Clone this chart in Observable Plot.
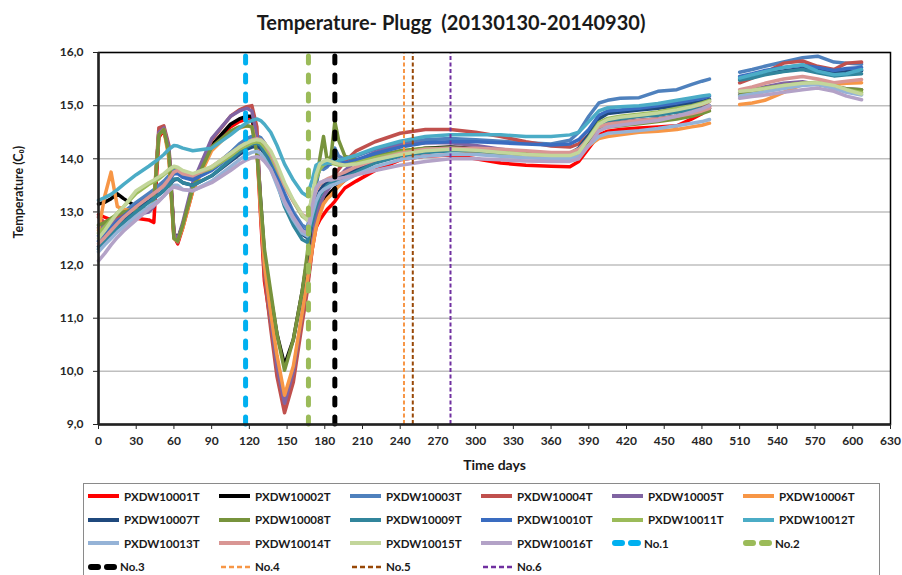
<!DOCTYPE html>
<html>
<head>
<meta charset="utf-8">
<script src="https://cdn.jsdelivr.net/npm/d3@7"></script>
<script src="https://cdn.jsdelivr.net/npm/@observablehq/plot@0.6"></script>
<style>
  body { margin:0; width:902px; height:575px; overflow:hidden; background:#fff; font-family: Lato, "Open Sans", sans-serif; position:relative; }
  #title { height:40px; line-height:44px; text-align:center; font-weight:bold; font-size:20px; color:#1a1a1a; }
  #chart svg { display:block; }
  #legend { position:absolute; left:83px; top:483px; width:797px; height:100px; border:1.5px solid #8a8a8a; box-sizing:border-box; }
  .item { position:absolute; height:20px; display:flex; align-items:center; font-weight:bold; font-size:11.5px; color:#1a1a1a; white-space:nowrap; }
  .item svg { margin-right:4px; }
</style>
</head>
<body>
<div id="title">Temperature- Plugg&nbsp;&nbsp;(20130130-20140930)</div>
<div id="chart"></div>
<div id="legend"></div>
<script>
const days = [
  0, 5, 10, 15, 20, 30, 40,
  44, 48, 52, 56, 60, 63, 67, 75,
  90, 105, 112, 118,
  122, 126, 129, 132, 137, 142, 148, 155, 162, 166,
  170, 173, 176, 179, 182, 185, 188, 191, 196,
  205, 220, 240, 260, 280, 300, 320, 340, 360,
  375, 382, 390, 398, 405, 415, 430, 445, 460, 472, 480, 486,
  498,
  510, 520, 530, 545, 560, 572, 585, 595, 607
];

const s01 = [
  12.95, 12.9, 12.85, 12.88, 12.9, 12.88, 12.85,
  12.8, 14.4, 14.55, 14.1, 12.55, 12.4, 12.7, 13.4,
  14.2, 14.6, 14.7, 14.75,
  14.78, 14.2, 12.9, 11.7, 10.9, 10.1, 9.45, 10.0, 11.0, 11.6,
  12.3, 12.7, 12.85, 12.95, 13.05, 13.12, 13.2, 13.3, 13.45,
  13.58, 13.78, 13.98, 14.05, 14.07, 14.0, 13.92, 13.88, 13.86,
  13.85, 13.95, 14.2, 14.45, 14.52, 14.55, 14.58, 14.6, 14.62, 14.75, 14.85, 14.98,
  null,
  null, null, null, null, null, null, null, null, null
];
const s02 = [
  13.15, 13.18, 13.25, 13.34, 13.25, 13.1, 13.05,
  13.1, 14.5, 14.55, 14.15, 12.6, 12.5, 12.75, 13.45,
  14.25, 14.65, 14.75, 14.8,
  14.8, 14.3, 13.2, 12.2, 11.4, 10.7, 10.12, 10.6, 11.5, 12.1,
  12.7, 13.0, 13.1, 13.2, 13.3, 13.38, 13.45, 13.5, 13.6,
  13.75, 13.95, 14.12, 14.2, 14.22, 14.2, 14.15, 14.1, 14.08,
  14.08, 14.15, 14.35, 14.6, 14.65, 14.68, 14.72, 14.75, 14.8, 14.85, 14.9, 14.95,
  null,
  null, null, null, null, null, null, null, null, null
];
const s03 = [
  12.55, 12.65, 12.78, 12.9, 13.0, 13.18, 13.35,
  13.42, 13.5, 13.58, 13.68, 13.78, 13.78, 13.7, 13.65,
  13.82, 14.12, 14.28, 14.38,
  14.42, 14.43, 14.4, 14.3, 14.05, 13.75, 13.35, 13.0, 12.75, 12.7,
  13.1, 13.6, 13.82, 13.8, 13.85, 13.95, 14.2, 14.05, 13.98,
  14.05, 14.18, 14.3, 14.36, 14.38, 14.36, 14.33, 14.3, 14.28,
  14.35, 14.5, 14.8, 15.05, 15.1, 15.14, 15.15, 15.27, 15.3, 15.4, 15.46, 15.5,
  null,
  15.63, 15.68, 15.74, 15.82, 15.9, 15.93, 15.82, 15.8, 15.78
];
const s04 = [
  12.9, 12.8, 12.85, 12.9, 12.95, 13.0, 13.05,
  13.15, 14.58, 14.62, 14.25, 12.55, 12.42, 12.75, 13.5,
  14.35, 14.8, 14.92, 14.98,
  15.0, 14.6, 13.0, 11.8, 10.8, 9.9, 9.22, 9.8, 10.9, 11.5,
  12.3, 12.9, 13.1, 13.3, 13.45, 13.6, 13.7, 13.8, 13.95,
  14.15, 14.32, 14.48, 14.55, 14.55, 14.5, 14.42, 14.32, 14.24,
  14.22, 14.28, 14.45, 14.6, 14.7, 14.75, 14.8, 14.85, 14.88, 14.92, 14.98, 15.08,
  null,
  15.43, 15.52, 15.62, 15.8, 15.84, 15.74, 15.68, 15.8, 15.82
];
const s05 = [
  12.7, 12.75, 12.8, 12.85, 12.9, 12.95, 13.0,
  13.1, 14.5, 14.58, 14.2, 12.6, 12.48, 12.8, 13.55,
  14.38, 14.8, 14.9, 14.95,
  14.9, 14.4, 13.1, 12.0, 11.0, 10.1, 9.4, 10.0, 11.1, 11.7,
  12.4, 12.95, 13.15, 13.3, 13.4, 13.5, 13.58, 13.65, 13.78,
  13.95, 14.12, 14.25, 14.3, 14.3, 14.25, 14.18, 14.12, 14.1,
  14.1, 14.18, 14.4, 14.6, 14.65, 14.68, 14.72, 14.75, 14.8, 14.85, 14.9, 14.95,
  null,
  15.25, 15.3, 15.35, 15.42, 15.45, 15.4, 15.35, 15.32, 15.3
];
const s06 = [
  12.65, 13.3, 13.75, 13.1, 13.05, 13.0, 13.05,
  13.2, 14.45, 14.55, 14.0, 12.5, 12.45, 12.7, 13.4,
  14.15, 14.5, 14.58, 14.62,
  14.6, 14.2, 13.0, 12.0, 11.1, 10.3, 9.55, 10.1, 11.1, 11.7,
  12.3, 12.7, 12.95, 13.15, 13.25, 13.32, 13.4, 13.48, 13.6,
  13.75, 13.98, 14.12, 14.18, 14.18, 14.12, 14.08, 14.05, 14.05,
  14.05, 14.1, 14.25, 14.38, 14.42, 14.45, 14.5, 14.52, 14.55, 14.6, 14.63, 14.67,
  null,
  15.02, 15.05, 15.1, 15.25, 15.4, 15.42, 15.4, 15.42, 15.43
];
const s07 = [
  12.35, 12.5, 12.62, 12.75, 12.85, 13.05, 13.2,
  13.27, 13.33, 13.4, 13.5, 13.6, 13.62, 13.55, 13.5,
  13.68, 13.95, 14.08, 14.18,
  14.22, 14.24, 14.2, 14.1, 13.9, 13.6, 13.2, 12.85, 12.58, 12.52,
  12.9, 13.2, 13.4, 13.5, 13.55, 13.6, 13.62, 13.65, 13.7,
  13.8, 13.95, 14.08, 14.15, 14.18, 14.18, 14.15, 14.1, 14.08,
  14.1, 14.2, 14.45, 14.75, 14.85, 14.88, 14.92, 14.95, 15.0, 15.05, 15.08, 15.12,
  null,
  15.5, 15.55, 15.6, 15.65, 15.7, 15.68, 15.62, 15.64, 15.66
];
const s08 = [
  12.75, 12.8, 12.88, 12.95, 13.0, 13.05, 13.05,
  13.15, 14.45, 14.55, 14.1, 12.5, 12.45, 12.75, 13.45,
  14.22, 14.52, 14.6, 14.62,
  14.6, 14.1, 13.2, 12.3, 11.5, 10.7, 10.02, 10.6, 11.5, 12.2,
  13.0, 13.5, 14.0, 14.42, 13.95, 14.05, 14.7, 14.35, 14.05,
  13.98, 14.05, 14.15, 14.2, 14.2, 14.15, 14.1, 14.08, 14.08,
  14.08, 14.15, 14.35, 14.55, 14.6, 14.62, 14.66, 14.7, 14.75, 14.8, 14.85, 14.9,
  null,
  15.2, 15.25, 15.3, 15.38, 15.42, 15.4, 15.35, 15.32, 15.3
];
const s09 = [
  12.3, 12.45, 12.58, 12.7, 12.8, 13.0, 13.18,
  13.25, 13.32, 13.4, 13.5, 13.62, 13.62, 13.55, 13.5,
  13.68, 13.98, 14.12, 14.22,
  14.28, 14.3, 14.25, 14.12, 13.88, 13.55, 13.1, 12.75, 12.48, 12.43,
  12.8, 13.1, 13.3, 13.42, 13.5, 13.55, 13.58, 13.6, 13.65,
  13.75, 13.92, 14.05, 14.12, 14.15, 14.15, 14.12, 14.1, 14.08,
  14.1, 14.18, 14.4, 14.65, 14.72, 14.75, 14.8, 14.82, 14.88, 14.92, 14.95, 15.0,
  null,
  15.48, 15.52, 15.58, 15.64, 15.68, 15.62, 15.56, 15.58, 15.6
];
const s10 = [
  12.45, 12.58, 12.7, 12.82, 12.92, 13.12, 13.28,
  13.35, 13.42, 13.5, 13.6, 13.72, 13.72, 13.65, 13.6,
  13.78, 14.05, 14.2, 14.3,
  14.35, 14.38, 14.35, 14.25, 14.0, 13.7, 13.3, 12.95, 12.68, 12.62,
  13.0, 13.5, 13.85, 13.85, 13.88, 13.9, 14.0, 13.95, 13.92,
  13.98, 14.1, 14.22, 14.3, 14.32, 14.32, 14.3, 14.28, 14.26,
  14.28, 14.36, 14.55, 14.82, 14.9, 14.92, 14.95, 15.0, 15.05, 15.1, 15.14, 15.18,
  null,
  15.55, 15.6, 15.66, 15.72, 15.76, 15.72, 15.66, 15.7, 15.72
];
const s11 = [
  12.6, 12.72, 12.85, 12.98, 13.1, 13.35, 13.52,
  13.57, 13.62, 13.7, 13.78, 13.85, 13.82, 13.75, 13.7,
  13.82, 14.05, 14.18, 14.25,
  14.3, 14.32, 14.3, 14.22, 14.05, 13.8, 13.5, 13.2, 12.92, 12.85,
  13.3, 13.6, 13.8, 13.88, 13.92, 13.92, 13.9, 13.88, 13.88,
  13.92, 14.02, 14.12, 14.18, 14.2, 14.18, 14.15, 14.1, 14.08,
  14.08, 14.15, 14.4, 14.68, 14.76, 14.8, 14.84, 14.88, 14.95, 15.0, 15.05, 15.1,
  null,
  15.28, 15.3, 15.33, 15.38, 15.42, 15.44, 15.38, 15.3, 15.25
];
const s12 = [
  13.22, 13.27, 13.33, 13.42, 13.52, 13.7, 13.86,
  13.93, 14.0, 14.08, 14.18, 14.25, 14.24, 14.2, 14.15,
  14.2, 14.45, 14.58, 14.68,
  14.72, 14.75, 14.72, 14.65, 14.5, 14.25, 13.9, 13.6, 13.36, 13.3,
  13.6, 13.88, 13.92, 13.9, 13.92, 13.93, 13.95, 13.97, 14.0,
  14.07, 14.2, 14.33, 14.42, 14.45, 14.45, 14.45, 14.42, 14.42,
  14.45, 14.5, 14.7, 14.9, 14.96, 14.98, 15.0, 15.04, 15.1, 15.15, 15.18, 15.2,
  null,
  15.52, 15.58, 15.64, 15.72, 15.77, 15.65, 15.58, 15.6, 15.68
];
const s13 = [
  12.25, 12.38, 12.5, 12.62, 12.72, 12.92, 13.1,
  13.16, 13.22, 13.3, 13.4, 13.5, 13.5, 13.42, 13.4,
  13.58, 13.85, 13.98, 14.08,
  14.12, 14.14, 14.1, 14.0, 13.8, 13.5, 13.15, 12.85, 12.6, 12.55,
  12.95, 13.2, 13.35, 13.42, 13.46, 13.5, 13.52, 13.55, 13.6,
  13.7, 13.85, 13.98, 14.05, 14.08, 14.08, 14.05, 14.02, 14.0,
  14.0, 14.05, 14.25, 14.42, 14.48, 14.5, 14.53, 14.57, 14.62, 14.67, 14.7, 14.74,
  null,
  15.18, 15.22, 15.26, 15.32, 15.38, 15.4, 15.32, 15.25, 15.2
];
const s14 = [
  12.4, 12.52, 12.65, 12.78, 12.9, 13.1, 13.28,
  13.35, 13.42, 13.5, 13.62, 13.75, 13.78, 13.72, 13.68,
  13.85, 14.1, 14.22, 14.3,
  14.35, 14.38, 14.36, 14.3, 14.1, 13.85, 13.5, 13.2, 12.95, 12.9,
  13.2, 13.4, 13.52, 13.58, 13.62, 13.65, 13.68, 13.7, 13.75,
  13.85, 13.98, 14.1, 14.18, 14.2, 14.2, 14.18, 14.15, 14.12,
  14.12, 14.18, 14.38, 14.6, 14.65, 14.68, 14.72, 14.75, 14.8, 14.85, 14.9, 14.95,
  null,
  15.3, 15.35, 15.42, 15.5, 15.55, 15.5, 15.43, 15.46, 15.49
];
const s15 = [
  12.5, 12.65, 12.82, 12.98, 13.1, 13.4, 13.55,
  13.6, 13.66, 13.72, 13.8, 13.86, 13.84, 13.78, 13.72,
  13.85, 14.1, 14.22, 14.3,
  14.34, 14.36, 14.35, 14.3, 14.15, 13.9, 13.55, 13.22, 12.95, 12.84,
  13.3, 13.7, 13.9, 13.95, 13.98, 13.95, 13.92, 13.9, 13.88,
  13.9, 13.98, 14.08, 14.15, 14.18, 14.16, 14.12, 14.08, 14.06,
  14.06, 14.12, 14.38, 14.65, 14.74, 14.78, 14.82, 14.86, 14.92, 14.98, 15.03, 15.08,
  null,
  15.27, 15.29, 15.32, 15.38, 15.42, 15.43, 15.38, 15.3, 15.22
];
const s16 = [
  12.08, 12.22, 12.38, 12.52, 12.64, 12.85, 13.05,
  13.12, 13.2, 13.3, 13.4, 13.47, 13.45, 13.42, 13.4,
  13.55, 13.78, 13.9, 13.98,
  14.02, 14.04, 14.02, 13.95, 13.8, 13.55, 13.2, 12.9, 12.65, 12.6,
  13.1, 13.45, 13.55, 13.58, 13.6, 13.6, 13.62, 13.63, 13.65,
  13.7, 13.78, 13.88, 13.95, 14.0, 14.0, 13.98, 13.96, 13.95,
  13.95, 14.0, 14.25, 14.52, 14.6, 14.63, 14.68, 14.72, 14.8, 14.88, 14.94, 15.0,
  null,
  15.14, 15.17, 15.2, 15.25, 15.3, 15.33, 15.27, 15.18, 15.11
];

const seriesNames = ["PXDW10001T","PXDW10002T","PXDW10003T","PXDW10004T","PXDW10005T","PXDW10006T",
  "PXDW10007T","PXDW10008T","PXDW10009T","PXDW10010T","PXDW10011T","PXDW10012T",
  "PXDW10013T","PXDW10014T","PXDW10015T","PXDW10016T"];
const seriesColors = ["#ff0000","#000000","#4f81bd","#c0504d","#8064a2","#f79646",
  "#1f497d","#77933c","#31859c","#3a6cc0","#9bbb59","#4bacc6",
  "#95b3d7","#d99694","#c3d69b","#b3a2c7"];
const seriesValues = [s01,s02,s03,s04,s05,s06,s07,s08,s09,s10,s11,s12,s13,s14,s15,s16];

const eventNames = ["No.1","No.2","No.3","No.4","No.5","No.6"];
const eventDays = [117, 167, 188, 243, 250, 280];
const eventColors = ["#00b0f0","#9bbb59","#000000","#f79646","#984807","#7030a0"];
const eventHeavy = [true, true, true, false, false, false];

const yTicks = [9, 10, 11, 12, 13, 14, 15, 16];
const xTicks = d3.range(0, 631, 30);

seriesValues.forEach((v, i) => { if (v.length !== days.length) throw new Error(`series ${i+1} length ${v.length} != ${days.length}`); });

const rows = seriesNames.flatMap((name, i) =>
  days.map((d, j) => ({series: name, day: d, temp: seriesValues[i][j]})));

const events = eventNames.map((n, i) => ({name: n, day: eventDays[i], color: eventColors[i], heavy: eventHeavy[i]}));

const eventMarks = events.map(e => Plot.ruleX([e], {
  x: "day", y1: 9, y2: 16, stroke: e.color,
  strokeWidth: e.heavy ? 5 : 2,
  strokeDasharray: e.heavy ? "7,12" : "4,2.5",
  strokeLinecap: e.heavy ? "round" : "butt"
}));

const chart = Plot.plot({
  width: 902,
  height: 440,
  marginLeft: 98,
  marginRight: 12,
  marginTop: 12,
  marginBottom: 56,
  style: {fontFamily: "Lato, 'Open Sans', sans-serif", fontSize: "12px", fontWeight: "bold", color: "#262626", background: "white"},
  x: {domain: [0, 630]},
  y: {domain: [9, 16]},
  color: {domain: seriesNames, range: seriesColors},
  marks: [
    Plot.gridY(yTicks, {stroke: "#bfbfbf", strokeOpacity: 1, strokeWidth: 1.5}),
    Plot.line(rows, {x: "day", y: "temp", z: "series", stroke: "series", strokeWidth: 3.5, strokeLinejoin: "round", strokeLinecap: "round"}),
    ...eventMarks,
    Plot.frame({stroke: "#000", strokeWidth: 1.5}),
    Plot.ruleX([0], {stroke: "#222", strokeWidth: 2.5}),
    Plot.ruleY([9], {stroke: "#222", strokeWidth: 2.5}),
    Plot.axisY(yTicks, {tickSize: 5, tickPadding: 10, tickFormat: d => d.toFixed(1).replace(".", ","), label: null, fontSize: 12}),
    Plot.axisX(xTicks, {tickSize: 5, tickPadding: 7, label: null, fontSize: 12}),
    Plot.text(["Temperature (C\u2080)"], {frameAnchor: "left", dx: -80, rotate: -90, fontSize: 12.5, fontWeight: "bold", fill: "#1a1a1a"}),
    Plot.text(["Time days"], {frameAnchor: "bottom", dy: 45, fontSize: 14, fontWeight: "bold", fill: "#1a1a1a"})
  ]
});
document.getElementById("chart").appendChild(chart);

// legend
const legend = document.getElementById("legend");
const legendItems = [
  ...seriesNames.map((n, i) => ({name: n, color: seriesColors[i], kind: "solid"})),
  ...events.map(e => ({name: e.name, color: e.color, kind: e.heavy ? "heavy" : "thin"}))
];
legendItems.forEach((it, k) => {
  const row = Math.floor(k / 6), col = k % 6;
  const div = document.createElement("div");
  div.className = "item";
  div.style.left = (4 + col * 131) + "px";
  div.style.top = (2 + row * 23.5) + "px";
  let sw;
  if (it.kind === "solid") sw = `<line x1="0" y1="10" x2="31" y2="10" stroke="${it.color}" stroke-width="4"/>`;
  else if (it.kind === "heavy") sw = `<line x1="3" y1="10" x2="31" y2="10" stroke="${it.color}" stroke-width="6" stroke-linecap="round" stroke-dasharray="7,9"/>`;
  else sw = `<line x1="2" y1="10" x2="31" y2="10" stroke="${it.color}" stroke-width="2.5" stroke-dasharray="5,3"/>`;
  div.innerHTML = `<svg width="32" height="20">${sw}</svg><span>${it.name}</span>`;
  if (it.kind === "heavy") div.querySelector("svg").style.marginRight = "0px";
  legend.appendChild(div);
});
</script>
</body>
</html>
